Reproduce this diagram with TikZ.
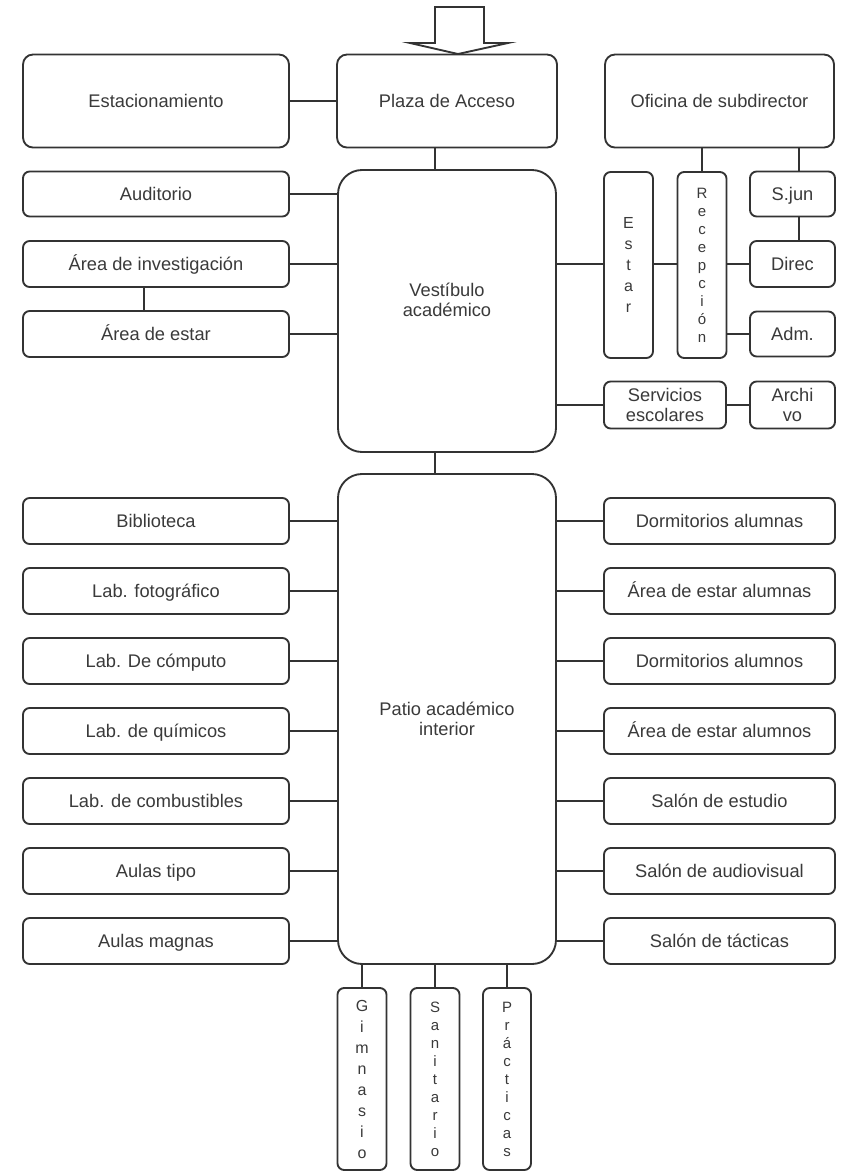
\documentclass[tikz,border=0pt]{standalone}
\usepackage{fontspec}
\setmainfont{Liberation Sans}
\definecolor{lc}{HTML}{333333}
\definecolor{tc}{HTML}{3a3a3a}
\begin{document}
\begin{tikzpicture}[x=0.75pt,y=-0.75pt,
  box/.style={draw=lc, line width=1.4pt, rounded corners=5pt, fill=white, inner sep=0pt,
    font=\fontsize{13.7}{15}\selectfont, text=tc, align=center},
  one/.style={text height=10pt, text depth=0.3pt},
  bigbox/.style={box, rounded corners=18pt},
  midbox/.style={box, one, rounded corners=7.5pt},
  vtxtA/.style={font=\fontsize{12}{15.75}\selectfont},
  vtxtB/.style={font=\fontsize{11.25}{13.5}\selectfont},
  conn/.style={draw=lc, line width=1.4pt}]
\useasboundingbox (0,0) rectangle (845,1172);

% top row
\node[midbox, minimum width=199.5pt, minimum height=69.75pt] (estac) at (156,101) {Estacionamiento};
\node[midbox, minimum width=165pt, minimum height=69.75pt] (plaza) at (447,101) {Plaza de Acceso};
\node[midbox, minimum width=171.75pt, minimum height=69.75pt] (ofi) at (719.5,101) {Oficina de subdirector};

% entrance arrow
\draw[draw=lc, line width=1.4pt, fill=white, line join=miter]
  (435,7) -- (484,7) -- (484,43) -- (508,43) -- (458,54) -- (410,43) -- (435,43) -- cycle;

% vestibulo
\node[bigbox, minimum width=163.5pt, minimum height=211.5pt] (vest) at (447,311) {};
\node[font=\fontsize{13.7}{15}\selectfont, text=tc, align=center, inner sep=0pt] (vtext) at (447,300) {Vestíbulo\\académico};

% left upper
\node[box, one, minimum width=199.5pt, minimum height=33.75pt] (aud) at (156,194) {Auditorio};
\node[box, one, minimum width=199.5pt, minimum height=34.5pt] (inv) at (156,264) {Área de investigación};
\node[box, one, minimum width=199.5pt, minimum height=34.5pt] (aest) at (156,334) {Área de estar};

% right upper
\node[box, minimum width=36.75pt, minimum height=139.5pt, vtxtA] (estar) at (628.5,265) {E\\s\\t\\a\\r};
\node[box, minimum width=36.75pt, minimum height=139.5pt, vtxtB] (recep) at (702,265) {R\\e\\c\\e\\p\\c\\i\\ó\\n};
\node[box, one, minimum width=63.75pt, minimum height=33.75pt] (sjun) at (792.5,194) {S.jun};
\node[box, one, minimum width=63.75pt, minimum height=34.5pt] (direc) at (792.5,264) {Direc};
\node[box, one, minimum width=63.75pt, minimum height=33.75pt] (adm) at (792.5,334) {Adm.};
\node[box, minimum width=91.5pt, minimum height=35.25pt] (serv) at (665,405) {Servicios\\escolares};
\node[box, minimum width=63.75pt, minimum height=35.25pt] (arch) at (792.5,405) {Archi\\vo};

% patio
\node[bigbox, minimum width=163.5pt, minimum height=367.5pt] (patio) at (447,719) {Patio académico\\interior};

% left lower
\foreach \n/\y/\t in {bib/521/Biblioteca, foto/591/Lab. fotográfico, comp/661/Lab. De cómputo,
  quim/731/Lab. de químicos, comb/801/Lab. de combustibles, atipo/871/Aulas tipo, amag/941/Aulas magnas}{
  \node[box, one, minimum width=199.5pt, minimum height=34.5pt] (\n) at (156,\y) {\t};
  \draw[conn] (\n.east) -- (\n.east -| patio.west);
}
% right lower
\foreach \n/\y/\t in {dalna/521/Dormitorios alumnas, ealna/591/Área de estar alumnas, dalno/661/Dormitorios alumnos,
  ealno/731/Área de estar alumnos, sest/801/Salón de estudio, saud/871/Salón de audiovisual, stac/941/Salón de tácticas}{
  \node[box, one, minimum width=173.25pt, minimum height=34.5pt] (\n) at (719.5,\y) {\t};
  \draw[conn] (\n.west) -- (\n.west -| patio.east);
}

% bottom
\node[box, minimum width=36.75pt, minimum height=136.5pt, vtxtA] (gim) at (362,1079) {G\\i\\m\\n\\a\\s\\i\\o};
\node[box, minimum width=36.75pt, minimum height=136.5pt, vtxtB] (san) at (435,1079) {S\\a\\n\\i\\t\\a\\r\\i\\o};
\node[box, minimum width=36pt, minimum height=136.5pt, vtxtB] (prac) at (507,1079) {P\\r\\á\\c\\t\\i\\c\\a\\s};

% helper coordinates
\coordinate (sx) at (799,0);
\coordinate (lx) at (144,0);

% connectors
\draw[conn] (estac.east) -- (plaza.west);
\draw[conn] (plaza.south -| san) -- (vest.north -| san);
\draw[conn] (vest.south -| san) -- (patio.north -| san);
\draw[conn] (recep.north) -- (recep.north |- ofi.south);
\draw[conn] (sjun.north -| sx) -- (ofi.south -| sx);
\draw[conn] (sjun.south -| sx) -- (direc.north -| sx);
\draw[conn] (aud.east) -- (aud.east -| vest.west);
\draw[conn] (inv.east) -- (inv.east -| vest.west);
\draw[conn] (aest.east) -- (aest.east -| vest.west);
\draw[conn] (inv.south -| lx) -- (aest.north -| lx);
\draw[conn] (vest.east |- direc) -- (estar.west |- direc);
\draw[conn] (estar.east |- direc) -- (recep.west |- direc);
\draw[conn] (recep.east |- direc) -- (direc.west);
\draw[conn] (recep.east |- adm) -- (adm.west);
\draw[conn] (vest.east |- serv) -- (serv.west);
\draw[conn] (serv.east) -- (arch.west);
\draw[conn] (gim.north) -- (gim.north |- patio.south);
\draw[conn] (san.north) -- (san.north |- patio.south);
\draw[conn] (prac.north) -- (prac.north |- patio.south);
\end{tikzpicture}
\end{document}
